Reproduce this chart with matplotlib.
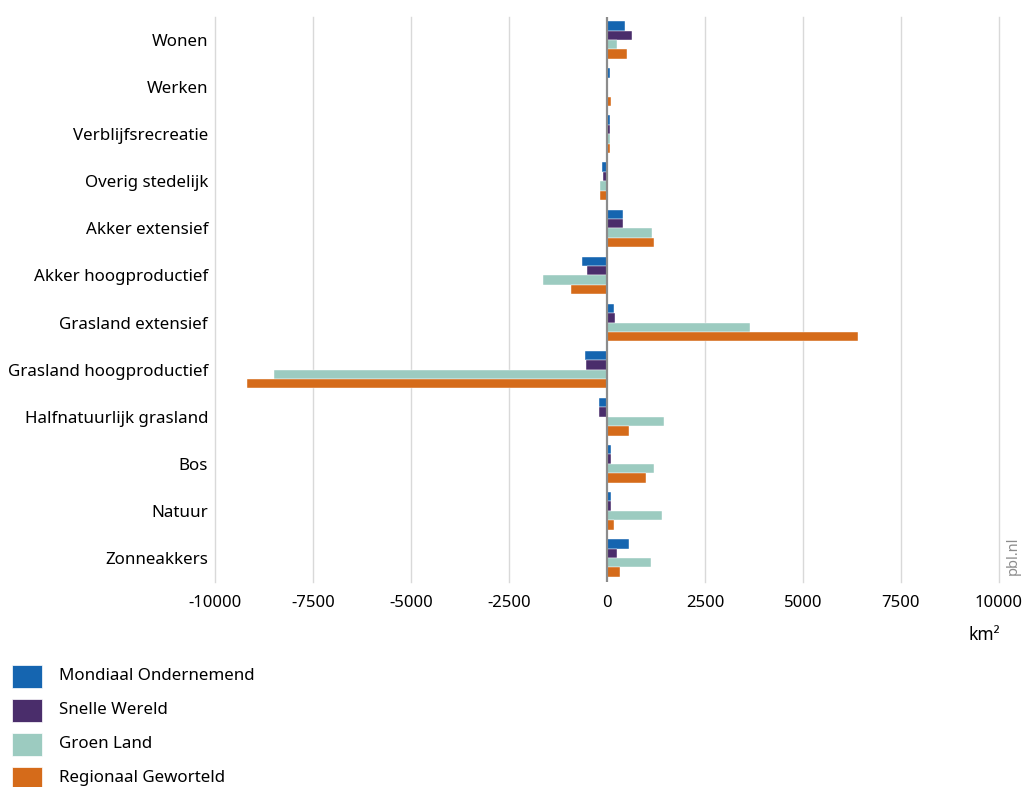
import numpy as np
import matplotlib.pyplot as plt
from matplotlib.patches import Rectangle

plt.rcParams['font.family'] = ['Noto Sans', 'DejaVu Sans']

categories = ['Wonen', 'Werken', 'Verblijfsrecreatie', 'Overig stedelijk',
              'Akker extensief', 'Akker hoogproductief', 'Grasland extensief',
              'Grasland hoogproductief', 'Halfnatuurlijk grasland', 'Bos',
              'Natuur', 'Zonneakkers']
series = ['Mondiaal Ondernemend', 'Snelle Wereld', 'Groen Land', 'Regionaal Geworteld']
mondiaal = [460, 80, 80, -130, 400, -650, 190, -560, -200, 110, 110, 570]
snelle = [640, 0, 80, -90, 420, -510, 210, -530, -200, 110, 110, 255]
groen = [260, 0, 70, -190, 1140, -1620, 3660, -8500, 1450, 1190, 1400, 1130]
regionaal = [510, 110, 80, -190, 1190, -920, 6400, -9180, 560, 1000, 190, 340]
colors = ['#1565b0', '#4a2d6b', '#9ccbc0', '#d56b1a']
xticks = [-10000, -7500, -5000, -2500, 0, 2500, 5000, 7500, 10000]

W, H = 1025, 787
fig = plt.figure(figsize=(W / 100, H / 100), dpi=100)
ax = fig.add_axes([215 / W, 1 - 581.5 / H, 784 / W, 565 / H])

y = np.arange(len(categories))
h = 0.2
for i, (vals, col) in enumerate(zip([mondiaal, snelle, groen, regionaal], colors)):
    ax.barh(y + (i - 1.5) * h, vals, height=h, color=col, zorder=3,
            edgecolor='white', linewidth=0.3)

ax.set_xlim(-10000, 10000)
ax.set_ylim(len(categories) - 0.5, -0.5)
ax.set_yticks(y)
ax.set_yticklabels(categories, fontsize=12.2)
ax.set_xticks(xticks)
ax.set_xticklabels([str(t) for t in xticks], fontsize=12)
ax.tick_params(axis='y', length=0, pad=5)
ax.tick_params(axis='x', length=0, pad=10)
for s in ax.spines.values():
    s.set_visible(False)
for t in xticks:
    if t != 0:
        ax.axvline(t, color='#d9d9d9', lw=1, zorder=1, clip_on=False)
ax.axvline(0, color='#8c8c8c', lw=1.6, zorder=4)

fig.text(1000 / W, 1 - 635 / H, 'km²', ha='right', va='center', fontsize=12.5)
fig.text(1013 / W, 1 - 556 / H, 'pbl.nl', ha='center', va='center',
         rotation=90, fontsize=10.5, color='#8c8c8c')

# legend drawn by hand so the rows sit where they do in the original
for i, (name, col) in enumerate(zip(series, colors)):
    yc = 676.5 + 34 * i
    fig.patches.append(Rectangle((12 / W, 1 - (yc + 11.5) / H), 30 / W, 23 / H,
                                 facecolor=col, edgecolor='white', linewidth=0.5,
                                 transform=fig.transFigure, figure=fig))
    fig.text(59 / W, 1 - yc / H, name, ha='left', va='center', fontsize=12.2)

fig.savefig('out.png', dpi=100)
